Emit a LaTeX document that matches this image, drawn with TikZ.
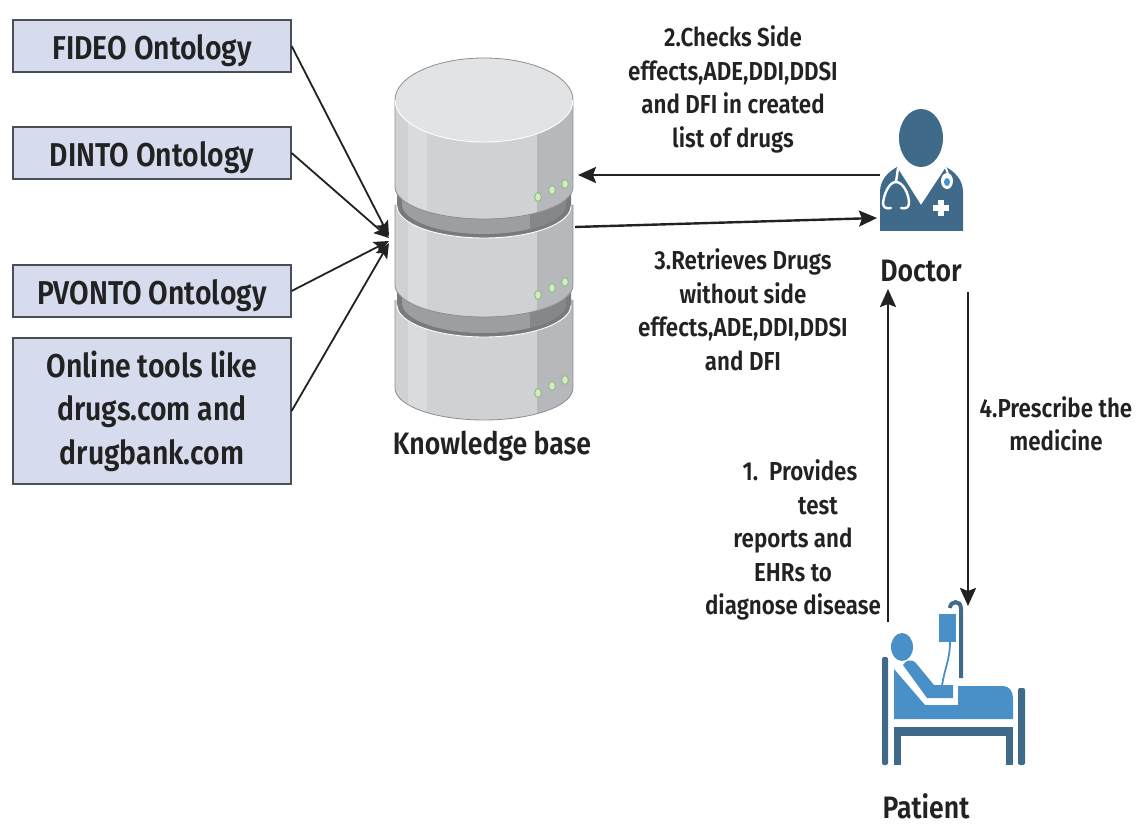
\documentclass[tikz,border=0pt]{standalone}
\usepackage{fontspec}
\setmainfont{Fira Sans}[FakeStretch=0.86,UprightFont=* SemiBold,BoldFont=* Bold]
\usetikzlibrary{arrows.meta}
\definecolor{boxfill}{HTML}{D6DCEE}
\definecolor{boxline}{HTML}{4A4F55}
\definecolor{doc}{HTML}{3F6A8A}
\definecolor{pat}{HTML}{4A90C8}
\definecolor{cylmain}{HTML}{D0D1D3}
\definecolor{cyllight}{HTML}{DADBDD}
\definecolor{cyldark}{HTML}{B6B8BB}
\definecolor{cyledge}{HTML}{8C8E91}
\definecolor{cyltop}{HTML}{E2E3E5}
\definecolor{ringdark}{HTML}{787B7E}
\definecolor{ringmid}{HTML}{9C9EA0}
\definecolor{ringshade}{HTML}{85888A}
\definecolor{txt}{HTML}{222222}
\definecolor{ledline}{HTML}{8FC07A}
\definecolor{ledfill}{HTML}{D6E8CB}
\tikzset{
  onto/.style={draw=boxline,line width=1.2pt,fill=boxfill,text=txt,align=center,anchor=center,inner sep=0pt,
     minimum width=278pt,font=\fontsize{33}{43.5}\selectfont},
  ontoone/.style={onto,minimum height=52pt,text height=27pt,text depth=0pt},
  lbl/.style={text=txt,align=center,inner sep=0pt,font=\fontsize{26}{33.5}\selectfont},
  big/.style={text=txt,align=center,inner sep=0pt,font=\fontsize{31}{36}\selectfont},
  feed/.style={draw=txt,line width=1.8pt,-{Stealth[length=15pt,width=13pt,inset=3pt]}},
  flow/.style={draw=txt,line width=2.4pt,-{Stealth[length=18pt,width=16pt,inset=3pt]}},
  led/.style={draw=ledline,fill=ledfill,line width=1pt},
}
\newcommand{\cylbody}[2]{% top y, side-bottom y
  \begin{scope}
    \clip (395,#1) -- (573,#1) -- (573,#2) arc[start angle=0,end angle=180,x radius=89,y radius=32] -- cycle;
    \fill[cylmain] (395,#1-1) rectangle (573,#2+34);
    \fill[cyllight] (408,#1-1) rectangle (427,#2+34);
    \fill[cyldark] (537,#1-1) rectangle (573,#2+34);
  \end{scope}
  \draw[cyledge,line width=.8pt] (395,#1) -- (395,#2) arc[start angle=180,end angle=0,x radius=89,y radius=32] -- (573,#1);
}
\newcommand{\cylring}[1]{% side-bottom y
  \fill[ringdark] (397,#1-25) -- (571,#1-25) -- (571,#1) arc[start angle=0,end angle=180,x radius=87,y radius=32] -- cycle;
  \begin{scope}
    \clip (402,#1-25) -- (566,#1-25) -- (566,#1-2) arc[start angle=0,end angle=180,x radius=82,y radius=30] -- cycle;
    \fill[ringmid] (402,#1-25) rectangle (566,#1+30);
    \fill[ringshade] (530,#1-25) rectangle (566,#1+30);
  \end{scope}
  \draw[white,line width=.9pt] (397,#1) arc[start angle=180,end angle=0,x radius=87,y radius=32];
}
\newcommand{\leds}[1]{%
  \foreach \dx/\dy in {538/13,552/6,565/0}{\draw[led] (\dx,#1+\dy) ellipse[x radius=3.4,y radius=4.4];}
}
\begin{document}
\begin{tikzpicture}[x=1pt,y=-1pt]
\useasboundingbox (0,0) rectangle (1146,834);
\fill[white] (0,0) rectangle (1146,834);

% ontology boxes
\node[ontoone] (fideo) at (152,46) {FIDEO Ontology};
\node[ontoone] (dinto) at (152,153) {DINTO Ontology};
\node[ontoone] (pvonto) at (152,291) {PVONTO Ontology};
\node[onto,minimum height=146pt] (online) at (152,411) {Online tools like\\drugs.com and\\drugbank.com};

% knowledge base cylinder
\cylbody{300}{388}
\leds{380}
\cylring{305}
\cylbody{205}{285}
\leds{282}
\cylring{206}
\cylbody{100}{187}
\leds{184}
\fill[cyltop] (484,100) ellipse[x radius=89,y radius=42];
\draw[white,line width=.9pt] (395,100) arc[start angle=180,end angle=0,x radius=89,y radius=42];
\draw[cyledge,line width=.8pt] (395,100) arc[start angle=180,end angle=360,x radius=89,y radius=42];
\node[inner sep=0pt,minimum width=178pt,minimum height=362pt] (kb) at (484,239) {};
\node[big] (kblabel) at (492,446) {Knowledge base};

% doctor icon
\fill[doc] (921,138) ellipse[x radius=22,y radius=29];
\fill[doc] (880,231) -- (880,192) .. controls (880,180) and (888,172) .. (897,167) -- (921,205) -- (946,167) .. controls (955,172) and (963,180) .. (963,192) -- (963,231) -- cycle;
\draw[white,line width=2.4pt,line cap=round] (898,168) -- (896,182);
\draw[white,line width=2.4pt,line cap=round,line join=round] (896,182) .. controls (889,182) and (884,194) .. (883,203) .. controls (883,208) and (887,209) .. (891,208);
\draw[white,line width=2.4pt,line cap=round] (896,182) .. controls (903,182) and (909,194) .. (909,203) .. controls (909,208) and (905,209) .. (901,208);
\draw[white,line width=2pt,line cap=round] (946,168) -- (948,174);
\fill[white] (947,181) ellipse[x radius=6,y radius=8];
\fill[pat] (947,182) ellipse[x radius=3,y radius=4];
\fill[white] (938,200) rectangle (944,216);
\fill[white] (933,205) rectangle (949,211);
\node[inner sep=0pt,minimum width=84pt,minimum height=124pt] (doctor) at (921.5,171) {};
\node[big] (doctorlabel) at (921,271) {Doctor};

% patient icon
\fill[doc,rounded corners=2pt] (882,657) rectangle (888,765);
\fill[doc,rounded corners=2pt] (1018,688) rectangle (1025,765);
\fill[doc] (894,727) rectangle (1013,736);
\fill[doc] (894,727) rectangle (901,765);
\fill[doc] (1006,727) rectangle (1013,765);
\fill[pat] (902,647) ellipse[x radius=11,y radius=14];
\fill[pat] (894,669) -- (925,705) -- (958,705) -- (958,686) -- (1003,686) .. controls (1009,686) and (1013,691) .. (1013,698) -- (1013,719) -- (894,719) -- cycle;
\fill[pat] (903,665) .. controls (906,660) and (911,659) .. (915,662) -- (934,685) -- (953,685) -- (953,698) -- (927,698) -- cycle;
\fill[pat] (939,614) rectangle (956,642);
\draw[pat,line width=1.8pt] (950,642) .. controls (950,660) and (944,670) .. (942,686);
\draw[doc,line width=4pt] (961,678) -- (961,609) .. controls (961,599) and (950,601) .. (950,608);
\node[inner sep=0pt,minimum width=143pt,minimum height=168pt] (patient) at (953.5,683) {};
\node[big] (patientlabel) at (926,806) {Patient};

% connector end points
\coordinate (hub1) at (389,236);
\coordinate (hub2) at (389,238);
\coordinate (hub3) at (389,241);
\coordinate (hub4) at (389,243);
\coordinate (kbin) at (578,175);
\coordinate (kbout) at (575,227);
\coordinate (docout) at (880,175);
\coordinate (docin) at (877,218);
\coordinate (docup) at (888,289);
\coordinate (patup) at (888,622);
\coordinate (docdown) at (968,292);
\coordinate (patdown) at (968,606);

\draw[feed] (fideo.east) -- (hub1);
\draw[feed] (dinto.east) -- (hub2);
\draw[feed] (pvonto.east) -- (hub3);
\draw[feed] (online.east) -- (hub4);
\draw[flow] (docout) -- (kbin);
\draw[flow] (kbout) -- (docin);
\draw[flow] (patup) -- (docup);
\draw[flow] (docdown) -- (patdown);

% labels
\node[lbl] (l2) at (733,89.5) {2.Checks Side\\effects,ADE,DDI,DDSI\\and DFI in created\\list of drugs};
\node[lbl] (l3) at (743,310) {3.Retrieves Drugs\\without side\\effects,ADE,DDI,DDSI\\and DFI};
\node[lbl] (l4) at (1056,424) {4.Prescribe the\\medicine};
\node[lbl] (l1) at (793,540) {\hspace*{14pt}1.\ \ Provides\\\hspace*{50pt}test\\reports and\\EHRs to\\diagnose disease};
\end{tikzpicture}
\end{document}
